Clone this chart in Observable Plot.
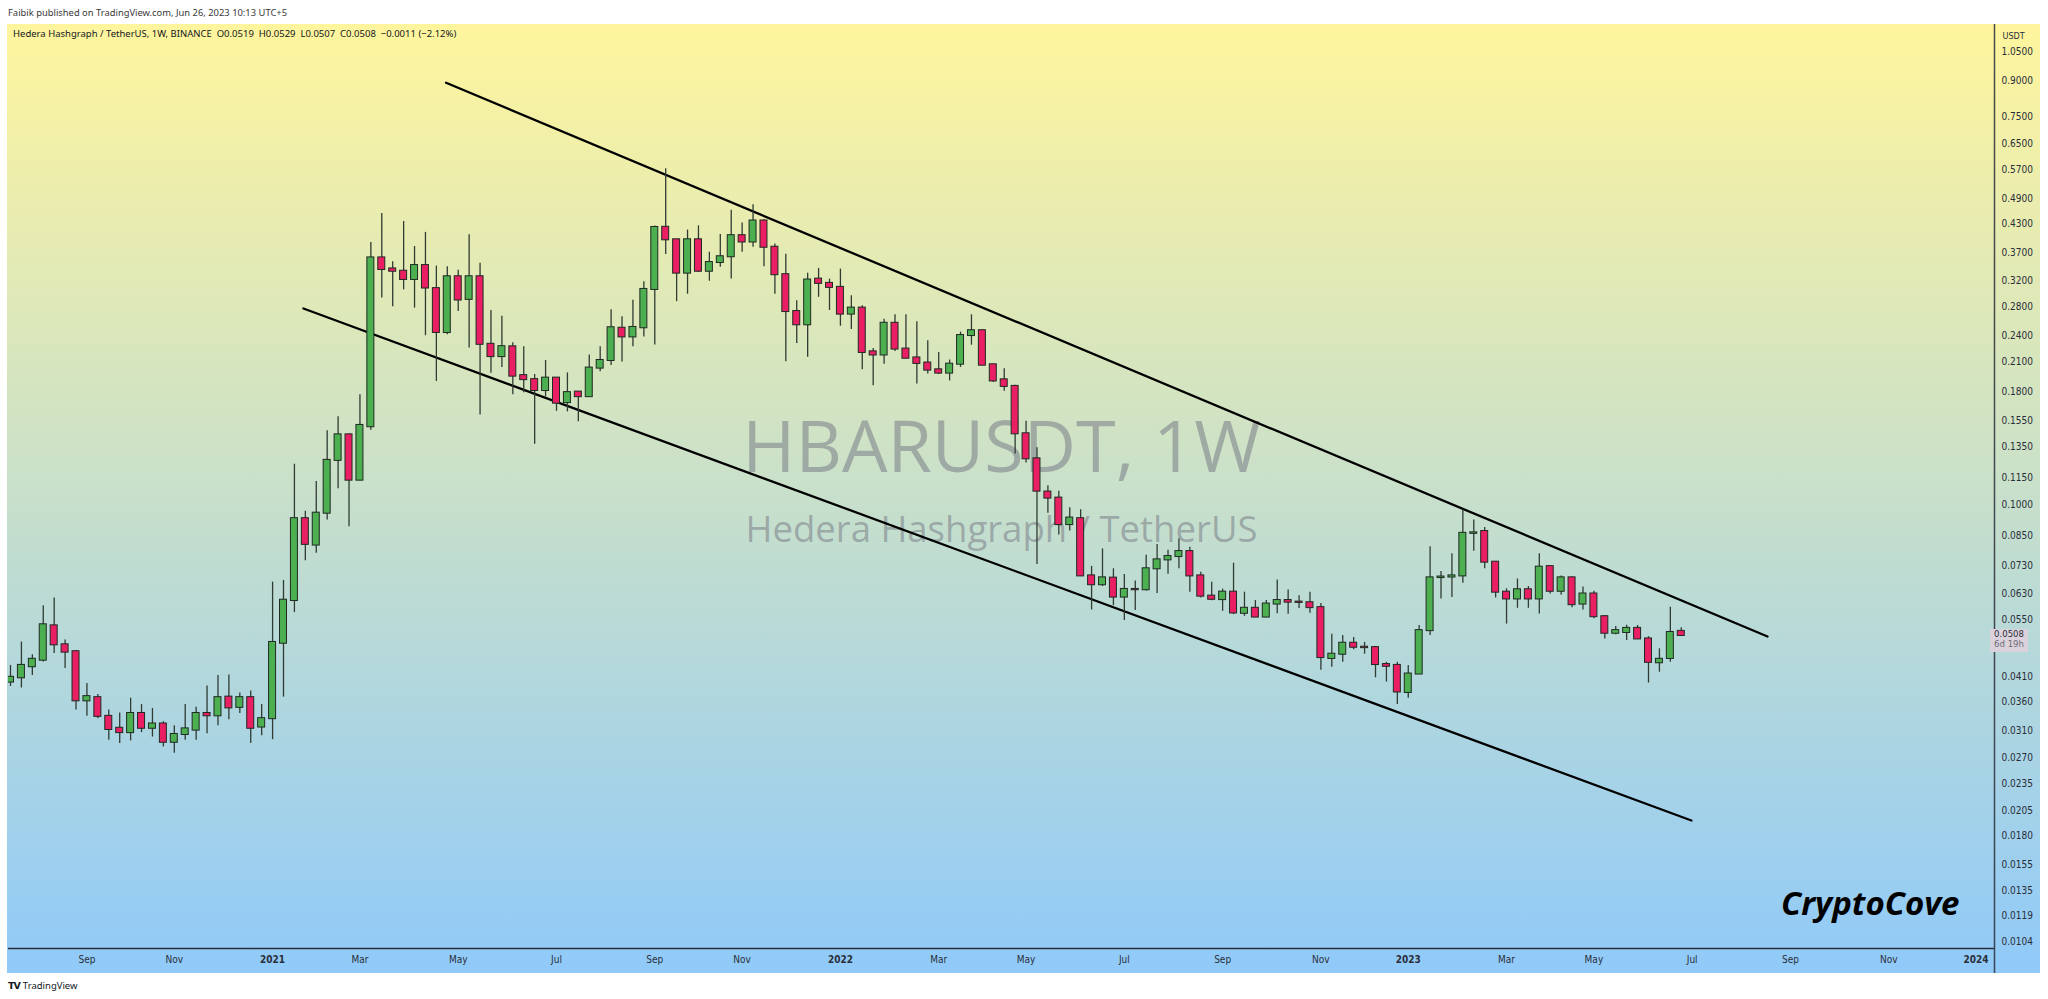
<!DOCTYPE html>
<html><head><meta charset="utf-8">
<script src="https://cdn.jsdelivr.net/npm/d3@7"></script>
<script src="https://cdn.jsdelivr.net/npm/@observablehq/plot@0.6"></script>
<style>
html,body{margin:0;padding:0;background:#fff;}
body{width:2048px;height:999px;position:relative;overflow:hidden;font-family:"Noto Sans","Open Sans",Roboto,sans-serif;}
#hdr{position:absolute;left:8px;top:6px;font-size:9.4px;line-height:13px;color:#3a3a3a;white-space:nowrap;}
#pane{position:absolute;left:7px;top:24px;width:2033px;height:949px;background:linear-gradient(to bottom,#fff59d 0%,#90caf9 100%);}
#pane svg{position:absolute;left:0;top:0;overflow:visible;}
#legend{position:absolute;left:6px;top:3px;font-size:9.5px;line-height:13px;color:#131722;white-space:nowrap;z-index:2;}
#logo{position:absolute;left:8px;top:979px;font-size:9.5px;line-height:13px;color:#131722;white-space:nowrap;}
#logo b{font-family:"DejaVu Sans",sans-serif;font-weight:900;letter-spacing:-1px;margin-right:3px;font-size:9.5px;}
#plabel{position:absolute;left:1990px;width:38px;height:23px;background:#dcd2dc;font-family:"DejaVu Sans Condensed","DejaVu Sans",sans-serif;font-stretch:condensed;font-size:9.5px;line-height:10.5px;text-align:center;z-index:3;}
#plabel .p{color:#2a2e39;}
#plabel .t{color:#6a6d78;}
</style></head><body>
<div id="hdr">Faibik published on TradingView.com, Jun 26, 2023 10:13 UTC+5</div>
<div id="pane"><div id="legend">Hedera Hashgraph / TetherUS, 1W, BINANCE&nbsp;&nbsp;O0.0519&nbsp;&nbsp;H0.0529&nbsp;&nbsp;L0.0507&nbsp;&nbsp;C0.0508&nbsp;&nbsp;−0.0011 (−2.12%)</div></div>
<div id="logo"><b>TV</b>TradingView</div>
<script>
const firstWeek = "2020-07-20";
const opens = [0.0399,0.0408,0.0432,0.0447,0.0534,0.0484,0.0467,0.0362,0.0368,0.0334,0.0314,0.0307,0.0339,0.0314,0.0321,0.0292,0.0304,0.0311,0.0339,0.0335,0.0369,0.0350,0.0368,0.0316,0.0330,0.0488,0.0609,0.0931,0.0812,0.0958,0.1260,0.1438,0.1137,0.1500,0.3600,0.3400,0.3360,0.3220,0.3460,0.3070,0.2445,0.3265,0.2904,0.3265,0.2300,0.2158,0.2270,0.1955,0.1915,0.1810,0.1930,0.1700,0.1795,0.1753,0.2033,0.2115,0.2500,0.2390,0.2506,0.3057,0.4220,0.3955,0.3327,0.3955,0.3360,0.3515,0.3622,0.4040,0.3910,0.4360,0.3805,0.3300,0.2726,0.2545,0.3225,0.3155,0.3090,0.2690,0.2775,0.2212,0.2176,0.2565,0.2244,0.2143,0.2087,0.2015,0.1981,0.2075,0.2407,0.2468,0.2068,0.1913,0.1849,0.1446,0.1270,0.1069,0.1036,0.0903,0.0931,0.0692,0.0661,0.0684,0.0620,0.0645,0.0644,0.0718,0.0752,0.0765,0.0785,0.0692,0.0623,0.0612,0.0636,0.0570,0.0585,0.0559,0.0598,0.0609,0.0604,0.0602,0.0587,0.0451,0.0461,0.0488,0.0478,0.0477,0.0437,0.0435,0.0378,0.0416,0.0521,0.0686,0.0688,0.0692,0.0863,0.0871,0.0743,0.0636,0.0614,0.0644,0.0614,0.0726,0.0639,0.0685,0.0598,0.0630,0.0560,0.0514,0.0516,0.0527,0.0499,0.0441,0.0451,0.0519];
const highs = [0.0435,0.0491,0.0460,0.0593,0.0617,0.0496,0.0470,0.0396,0.0374,0.0345,0.0340,0.0367,0.0355,0.0348,0.0325,0.0318,0.0355,0.0350,0.0391,0.0413,0.0414,0.0377,0.0381,0.0355,0.0670,0.0676,0.1235,0.0968,0.1129,0.1470,0.1580,0.1445,0.1770,0.3900,0.4530,0.3530,0.4350,0.3820,0.4110,0.3450,0.3440,0.3375,0.4062,0.3500,0.2740,0.2660,0.2320,0.2270,0.1966,0.2115,0.1935,0.1983,0.1800,0.2175,0.2270,0.2753,0.2655,0.2890,0.3180,0.4250,0.5715,0.3960,0.4160,0.4252,0.3708,0.4063,0.4607,0.4315,0.4746,0.4390,0.3870,0.3670,0.2884,0.3326,0.3410,0.3225,0.3397,0.2958,0.2810,0.2250,0.2620,0.2680,0.2680,0.2585,0.2344,0.2205,0.2120,0.2450,0.2680,0.2475,0.2075,0.2026,0.1860,0.1544,0.1345,0.1104,0.1074,0.0985,0.0975,0.0727,0.0796,0.0718,0.0697,0.0674,0.0770,0.0814,0.0790,0.0839,0.0803,0.0705,0.0670,0.0646,0.0739,0.0636,0.0609,0.0609,0.0677,0.0643,0.0624,0.0636,0.0600,0.0511,0.0508,0.0503,0.0490,0.0480,0.0442,0.0442,0.0435,0.0535,0.0805,0.0708,0.0776,0.0974,0.0925,0.0889,0.0745,0.0647,0.0681,0.0655,0.0776,0.0727,0.0692,0.0688,0.0653,0.0639,0.0563,0.0532,0.0536,0.0535,0.0505,0.0474,0.0588,0.0529];
const lows = [0.0390,0.0387,0.0413,0.0443,0.0463,0.0428,0.0345,0.0334,0.0330,0.0295,0.0290,0.0294,0.0307,0.0300,0.0285,0.0276,0.0295,0.0295,0.0305,0.0318,0.0328,0.0339,0.0290,0.0302,0.0296,0.0369,0.0572,0.0749,0.0778,0.0925,0.1088,0.0893,0.1133,0.1472,0.2925,0.2795,0.3050,0.2775,0.2405,0.1897,0.2418,0.2726,0.2255,0.1594,0.1980,0.2040,0.1770,0.1790,0.1370,0.1750,0.1625,0.1620,0.1540,0.1750,0.1995,0.2060,0.2098,0.2270,0.2390,0.2292,0.3664,0.2870,0.2982,0.3340,0.3190,0.3430,0.3227,0.3708,0.3805,0.3440,0.2982,0.2102,0.2310,0.2152,0.2935,0.2742,0.2526,0.2484,0.2015,0.1855,0.2075,0.2217,0.2135,0.1871,0.1972,0.1966,0.1902,0.2040,0.2289,0.2057,0.1887,0.1804,0.1303,0.1242,0.0734,0.0958,0.0856,0.0873,0.0690,0.0580,0.0655,0.0593,0.0549,0.0578,0.0640,0.0632,0.0698,0.0718,0.0636,0.0617,0.0608,0.0576,0.0566,0.0561,0.0559,0.0557,0.0569,0.0567,0.0584,0.0570,0.0424,0.0431,0.0442,0.0472,0.0461,0.0408,0.0399,0.0355,0.0367,0.0415,0.0508,0.0614,0.0619,0.0666,0.0786,0.0718,0.0617,0.0539,0.0585,0.0585,0.0568,0.0630,0.0626,0.0587,0.0580,0.0554,0.0499,0.0510,0.0495,0.0499,0.0397,0.0420,0.0442,0.0507];
const closes = [0.0409,0.0435,0.0449,0.0537,0.0484,0.0466,0.0362,0.0370,0.0334,0.0312,0.0307,0.0339,0.0314,0.0321,0.0292,0.0304,0.0313,0.0339,0.0335,0.0368,0.0349,0.0368,0.0314,0.0330,0.0490,0.0610,0.0931,0.0815,0.0958,0.1260,0.1438,0.1137,0.1510,0.3600,0.3390,0.3360,0.3220,0.3460,0.3080,0.2446,0.3265,0.2894,0.3265,0.2300,0.2158,0.2272,0.1950,0.1915,0.1810,0.1930,0.1695,0.1790,0.1753,0.2033,0.2115,0.2506,0.2390,0.2510,0.3057,0.4216,0.3955,0.3327,0.3955,0.3360,0.3515,0.3622,0.4040,0.3910,0.4360,0.3805,0.3300,0.2726,0.2545,0.3210,0.3155,0.3090,0.2690,0.2775,0.2205,0.2176,0.2565,0.2244,0.2140,0.2083,0.2012,0.1981,0.2075,0.2407,0.2468,0.2064,0.1902,0.1849,0.1446,0.1270,0.1074,0.1036,0.0903,0.0934,0.0692,0.0661,0.0685,0.0620,0.0645,0.0644,0.0718,0.0752,0.0765,0.0785,0.0692,0.0623,0.0613,0.0636,0.0571,0.0585,0.0559,0.0598,0.0609,0.0604,0.0603,0.0587,0.0453,0.0461,0.0488,0.0478,0.0477,0.0437,0.0433,0.0379,0.0416,0.0521,0.0685,0.0688,0.0692,0.0863,0.0865,0.0743,0.0636,0.0614,0.0644,0.0614,0.0724,0.0639,0.0685,0.0596,0.0630,0.0560,0.0514,0.0521,0.0527,0.0499,0.0442,0.0449,0.0516,0.0508];

const upperLine = [{date:"2021-04-25T05:00Z", price:0.8929},{date:"2023-08-20T07:00Z", price:0.05053}];
const lowerLine = [{date:"2021-01-23T19:00Z", price:0.2769},{date:"2023-07-02T12:00Z", price:0.01946}];

const yTicks = [1.05,0.9,0.75,0.65,0.57,0.49,0.43,0.37,0.32,0.28,0.24,0.21,0.18,0.155,0.135,0.115,0.1,0.085,0.073,0.063,0.055,0.041,0.036,0.031,0.027,0.0235,0.0205,0.018,0.0155,0.0135,0.0119,0.0104];
const monthTicks = ["2020-09-07","2020-11-02","2021-03-01","2021-05-03","2021-07-05","2021-09-06","2021-11-01","2022-03-07","2022-05-02","2022-07-04","2022-09-05","2022-11-07","2023-03-06","2023-05-01","2023-07-03","2023-09-04","2023-11-06"];
const yearTicks = ["2021-01-04","2022-01-03","2023-01-02","2024-01-01"];
const lastPrice = 0.0508, countdown = "6d 19h";

const xDomain = [new Date("2020-07-18T17:15Z"), new Date("2024-01-12T19:00Z")];
const yDomain = [0.01002, 1.208];

const start = new Date(firstWeek + "T00:00:00Z");
const candles = opens.map((o, i) => ({date: d3.utcMonday.offset(start, i), open: o, high: highs[i], low: lows[i], close: closes[i]}));
const toPts = a => a.map(d => ({date: new Date(d.date), price: d.price}));
const halfBody = 2.24 * 86400000;
const axisFont = '"DejaVu Sans Condensed","DejaVu Sans",sans-serif';
const wmFont = '"Open Sans","Noto Sans",sans-serif';
const green = "#4caf50", red = "#e91e63", edge = "#1f2a22", wick = "#2f3b33", sep = "#2a2e39";

const chart = Plot.plot({
  width: 2033, height: 949,
  marginLeft: 1, marginRight: 46, marginTop: 0, marginBottom: 25,
  style: {background: "transparent", fontFamily: axisFont, fontSize: "10px", color: "#2a2e39", overflow: "visible"},
  x: {type: "utc", domain: xDomain},
  y: {type: "log", domain: yDomain},
  marks: [
    Plot.text(["HBARUSDT, 1W"], {frameAnchor: "middle", dy: -38, fontSize: 72, fill: "#787b86", fillOpacity: 0.55, fontFamily: wmFont}),
    Plot.text(["Hedera Hashgraph / TetherUS"], {frameAnchor: "middle", dy: 44, fontSize: 36.5, fill: "#787b86", fillOpacity: 0.55, fontFamily: wmFont}),
    Plot.line(toPts(upperLine), {x: "date", y: "price", stroke: "#000", strokeWidth: 2.3, clip: true}),
    Plot.line(toPts(lowerLine), {x: "date", y: "price", stroke: "#000", strokeWidth: 2.3, clip: true}),
    Plot.ruleX(candles, {x: "date", y1: "low", y2: "high", stroke: wick, strokeWidth: 1.3, clip: true}),
    Plot.rect(candles, {
      x1: d => new Date(+d.date - halfBody), x2: d => new Date(+d.date + halfBody),
      y1: "open", y2: "close",
      fill: d => d.close >= d.open ? green : red,
      stroke: edge, strokeWidth: 1, insetTop: -0.5, insetBottom: -0.5, clip: true
    }),
    Plot.ruleY([yDomain[0]], {stroke: sep, strokeWidth: 1.5}),
    Plot.ruleX([xDomain[1]], {stroke: sep, strokeWidth: 1.5, strokeOpacity: 0.85, insetBottom: -25}),
    Plot.axisY(yTicks, {anchor: "right", tickSize: 0, tickPadding: 7, tickFormat: d => d.toFixed(4), label: null, fontSize: 10, fill: "#2a2e39"}),
    Plot.axisX(monthTicks.map(s => new Date(s)), {anchor: "bottom", tickSize: 0, tickPadding: 7, tickFormat: d3.utcFormat("%b"), label: null, fontSize: 10, fill: "#2a2e39"}),
    Plot.axisX(yearTicks.map(s => new Date(s)), {anchor: "bottom", tickSize: 0, tickPadding: 7, tickFormat: d3.utcFormat("%Y"), label: null, fontSize: 10, fontWeight: "bold", fill: "#2a2e39"}),
    Plot.text(["USDT"], {frameAnchor: "top-right", dx: 8, dy: 8, textAnchor: "start", fontSize: 9, fill: "#2a2e39"}),
    Plot.text(["CryptoCove"], {frameAnchor: "bottom-right", dx: -35, dy: -34, textAnchor: "end", fontSize: 33, fontWeight: "bold", fontStyle: "italic", fill: "#000", fontFamily: wmFont})
  ]
});
const pane = document.getElementById("pane");
pane.appendChild(chart);
chart.querySelectorAll('g[aria-label^="x-axis"] text, g[aria-label^="y-axis"] text').forEach(t => t.style.fontStretch = "condensed");

const yPos = chart.scale("y").apply(lastPrice);
const lab = document.createElement("div");
lab.id = "plabel";
lab.style.top = (24 + yPos - 6) + "px";
lab.innerHTML = `<div class="p">${lastPrice.toFixed(4)}</div><div class="t">${countdown}</div>`;
document.body.appendChild(lab);
</script>
</body></html>
